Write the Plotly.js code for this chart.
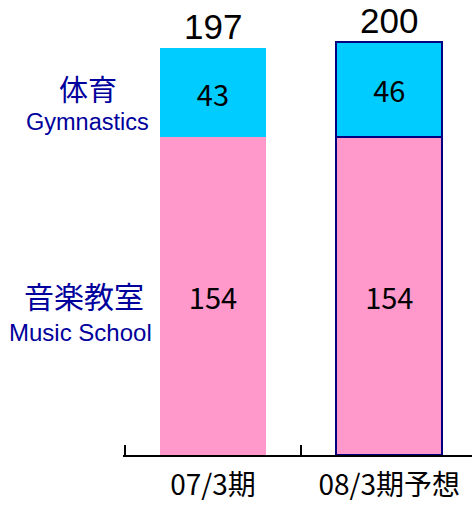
<!DOCTYPE html>
<html>
<head>
<meta charset="utf-8">
<script src="https://cdn.plot.ly/plotly-3.0.1.min.js"></script>
<style>html,body{margin:0;padding:0;background:#fff;}#chart{width:472px;height:505px;}</style>
</head>
<body>
<div id="chart"></div>
<script>
const categories = ['07/3期', '08/3期予想'];
const musicSchool = [154, 154];
const gymnastics = [43, 46];
const totals = [197, 200];
const seriesNames = ['音楽教室', '体育'];
const seriesNamesEn = ['Music School', 'Gymnastics'];

const borderWidths = [0, 2];
const jpFont = '"Noto Sans CJK JP", sans-serif';
const enFont = '"Liberation Sans", Arial, sans-serif';
const navy = '#000080';
const labelColor = '#00009c';

const traces = [
  {
    type: 'bar', x: categories, y: musicSchool, name: seriesNames[0],
    marker: {color: '#FF99CC', line: {color: navy, width: borderWidths}},
    text: musicSchool.map(String), textposition: 'inside', insidetextanchor: 'middle',
    textangle: 0, textfont: {family: jpFont, size: 29, color: '#000'},
    width: 0.6, hoverinfo: 'none'
  },
  {
    type: 'bar', x: categories, y: gymnastics, name: seriesNames[1],
    marker: {color: '#00CCFF', line: {color: navy, width: borderWidths}},
    text: gymnastics.map(String), textposition: 'inside', insidetextanchor: 'middle',
    textangle: 0, textfont: {family: jpFont, size: 29, color: '#000'},
    width: 0.6, hoverinfo: 'none'
  }
];

const annotations = categories.map((c, i) => ({
  x: c, y: totals[i], xref: 'x', yref: 'y', text: String(totals[i]),
  showarrow: false, yanchor: 'bottom', yshift: 0,
  font: {family: enFont, size: 35, color: '#000'}
}));

// series labels on the left (paper fractions of the 349px-wide plot area)
const px = v => (v - 123) / 349;
annotations.push(
  {xref: 'paper', yref: 'paper', x: px(88), y: 1 - 88/455, text: seriesNames[1], showarrow: false,
   xanchor: 'center', yanchor: 'middle', font: {family: jpFont, size: 29, color: labelColor}},
  {xref: 'paper', yref: 'paper', x: px(87), y: 1 - 122/455, text: seriesNamesEn[1], showarrow: false,
   xanchor: 'center', yanchor: 'middle', font: {family: enFont, size: 23.5, color: labelColor}},
  {xref: 'paper', yref: 'paper', x: px(84), y: 1 - 295/455, text: seriesNames[0], showarrow: false,
   xanchor: 'center', yanchor: 'middle', font: {family: jpFont, size: 30, color: labelColor}},
  {xref: 'paper', yref: 'paper', x: px(80), y: 1 - 332/455, text: seriesNamesEn[0], showarrow: false,
   xanchor: 'center', yanchor: 'middle', font: {family: enFont, size: 24, color: labelColor}}
);

const layout = {
  width: 472, height: 505,
  margin: {l: 123, r: 0, t: 0, b: 50},
  barmode: 'stack',
  showlegend: false,
  paper_bgcolor: '#fff', plot_bgcolor: '#fff',
  xaxis: {
    type: 'category', range: [-0.51, 1.469],
    showline: true, linecolor: '#000', linewidth: 2,
    ticks: 'inside', tickson: 'boundaries', ticklen: 10, tickwidth: 2, tickcolor: '#000',
    showgrid: false, zeroline: false,
    tickfont: {family: jpFont, size: 28, color: '#000'},
    ticklabelstandoff: 4
  },
  yaxis: {
    range: [0, 220.3], visible: false, showgrid: false, zeroline: false
  },
  annotations: annotations
};

Plotly.newPlot('chart', traces, layout, {staticPlot: true, displayModeBar: false});
</script>
</body>
</html>
